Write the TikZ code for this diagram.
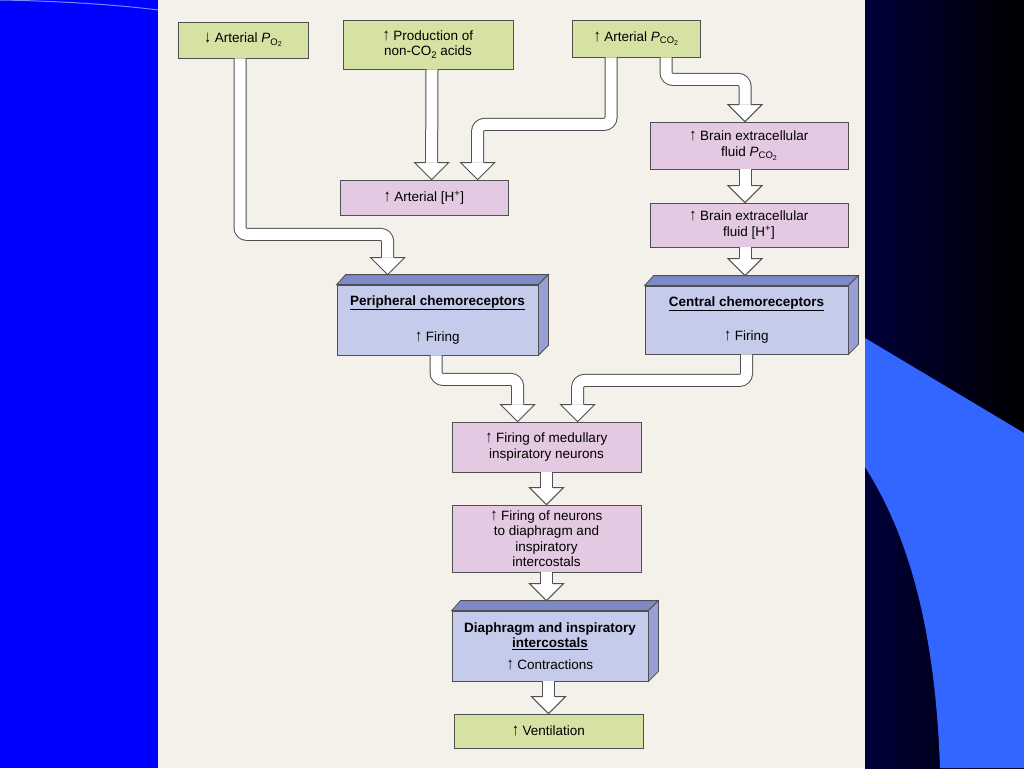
\documentclass[tikz,border=0pt]{standalone}
\usepackage{fontspec}
\setmainfont{Liberation Sans}
\usepackage{tikz}
\usetikzlibrary{calc}

\definecolor{pagec}{RGB}{243,241,234}
\definecolor{leftc}{RGB}{0,0,255}
\definecolor{navyc}{RGB}{0,0,58}
\definecolor{wingc}{RGB}{51,102,255}
\definecolor{arcc}{RGB}{110,140,255}
\definecolor{greenc}{RGB}{214,226,164}
\definecolor{pinkc}{RGB}{228,201,226}
\definecolor{frontc}{RGB}{197,203,234}
\definecolor{topc}{RGB}{126,138,200}
\definecolor{sidec}{RGB}{150,160,214}
\definecolor{boxline}{RGB}{80,80,80}

\newcommand{\sub}[1]{\raisebox{-0.35ex}{\fontsize{9.5}{10}\selectfont #1}}
\newcommand{\pres}[1]{\textit{P}\sub{#1\raisebox{-0.3ex}{\fontsize{7}{8}\selectfont 2}}}
\newcommand{\up}{\scalebox{1}[1.25]{\textbf{↑}}}

\newcommand{\slab}[1]{%
  \filldraw[topc,draw=boxline,line width=0.8pt] (#1.north west) -- ++(9,-10) -- ($(#1.north east)+(10,-10)$) -- (#1.north east) -- cycle;
  \filldraw[sidec,draw=boxline,line width=0.8pt] (#1.north east) -- ++(10,-10) -- ($(#1.south east)+(10,-10)$) -- (#1.south east) -- cycle;}

\newcommand{\headat}[1]{%
  \fill[white] ($(#1)+(-17,-17)$) -- (#1) -- ($(#1)+(17,-17)$) -- cycle;
  \draw[tipline] ($(#1)+(-6,-17)$) -- ($(#1)+(-17,-17)$) -- (#1) -- ($(#1)+(17,-17)$) -- ($(#1)+(6,-17)$);}

\begin{document}
\begin{tikzpicture}[x=1pt,y=-1pt,
  every node/.style={font=\fontsize{13.5}{15.5}\selectfont,align=center,inner sep=0pt},
  greenbox/.style={draw=boxline,line width=0.8pt,fill=greenc},
  pinkbox/.style={draw=boxline,line width=0.8pt,fill=pinkc},
  slabbox/.style={draw=boxline,line width=0.8pt,fill=frontc},
  shaft/.style={draw=boxline,line width=1pt,double=white,double distance=11pt,rounded corners=7pt},
  tipline/.style={draw=boxline,line width=1pt,line join=miter}]

\useasboundingbox (0,0) rectangle (1024,768);
\fill[leftc] (0,0) rectangle (158,768);
\draw[arcc,line width=1pt] (0,0) .. controls (60,1) and (120,5) .. (158,10);
\fill[pagec] (158,0) rectangle (865,768);
\shade[left color=navyc,right color=black] (865,0) rectangle (1024,768);
\fill[wingc] (865,338) -- (1024,433) -- (1024,768) -- (940,768)
  .. controls (935,620) and (905,530) .. (865,467) -- cycle;

\node[greenbox,minimum width=130pt,minimum height=36pt] (po2) at (243,40) {\scalebox{1}[1.25]{\textbf{↓}} Arterial \textit{P}\sub{O\raisebox{-0.3ex}{\fontsize{7}{8}\selectfont 2}}};
\node[greenbox,minimum width=170pt,minimum height=49pt] (acids) at (428,44.5) {\up{} Production of\\non-CO\sub{2} acids};
\node[greenbox,minimum width=128pt,minimum height=37pt] (pco2) at (636,38.5) {\up{} Arterial \pres{CO}};
\node[pinkbox,minimum width=198pt,minimum height=47pt] (brainco2) at (749,145.5) {\up{} Brain extracellular\\fluid \pres{CO}};
\node[pinkbox,minimum width=168pt,minimum height=35pt] (arth) at (424,197.5) {\up{} Arterial [H\textsuperscript{+}]};
\node[pinkbox,minimum width=198pt,minimum height=44pt] (brainh) at (749,225) {\up{} Brain extracellular\\fluid [H\textsuperscript{+}]};
\node[slabbox,minimum width=201pt,minimum height=70pt] (periph) at (437.5,320) {\underline{\textbf{Peripheral chemoreceptors}}\\[21pt]\up{} Firing};
\node[slabbox,minimum width=203pt,minimum height=68pt] (central) at (746.5,320) {\underline{\textbf{Central chemoreceptors}}\\[19pt]\up{} Firing};
\node[pinkbox,minimum width=189pt,minimum height=50pt] (medulla) at (546.5,447) {\up{} Firing of medullary\\inspiratory neurons};
\node[pinkbox,minimum width=189pt,minimum height=67pt] (motor) at (546.5,538.5) {\up{} Firing of neurons\\to diaphragm and\\inspiratory\\intercostals};
\node[slabbox,minimum width=196pt,minimum height=70pt] (muscles) at (550,646) {\textbf{Diaphragm and inspiratory}\\\underline{\textbf{intercostals}}\\[6pt]\up{} Contractions};
\node[greenbox,minimum width=189pt,minimum height=34pt] (vent) at (548.5,731) {\up{} Ventilation};

\slab{periph}
\slab{central}
\slab{muscles}

\coordinate (in1) at ($(periph.north west)+(51,-10)$);
\coordinate (in2) at ($(arth.north west)+(92,0)$);
\coordinate (in3) at ($(arth.north west)+(138,0)$);
\coordinate (in4) at ([xshift=-4pt]brainco2.north);
\coordinate (in5) at ([xshift=-4pt]brainh.north);
\coordinate (in6) at ([shift={(-1.5,-10)}]central.north);
\coordinate (in7) at ($(medulla.north west)+(66,0)$);
\coordinate (in8) at ($(medulla.north west)+(126,0)$);
\coordinate (in9) at (motor.north);
\coordinate (in10) at ([shift={(-3.5,-10)}]muscles.north);
\coordinate (in11) at (vent.north);

\draw[shaft] ([xshift=-3pt]po2.south) -- ++(0,176) -| ([yshift=17pt]in1);
\draw[shaft] (432,0 |- acids.south) -- ([yshift=17pt]in2);
\draw[shaft] ([xshift=-25pt]pco2.south) -- ++(0,67) -| ([yshift=17pt]in3);
\draw[shaft] ([xshift=30pt]pco2.south) -- ++(0,22) -| ([yshift=17pt]in4);
\draw[shaft] ([xshift=-4pt]brainco2.south) -- ([yshift=17pt]in5);
\draw[shaft] ([xshift=-4pt]brainh.south) -- ([yshift=17pt]in6);
\draw[shaft] ([xshift=-1.5pt]periph.south) -- ++(0,24) -| ([yshift=17pt]in7);
\draw[shaft] (central.south) -- ++(0,26) -| ([yshift=17pt]in8);
\draw[shaft] (medulla.south) -- ([yshift=17pt]in9);
\draw[shaft] (motor.south) -- ([yshift=17pt]in10);
\draw[shaft] ([xshift=-1.5pt]muscles.south) -- ([yshift=17pt]in11);

\headat{in1}
\headat{in2}
\headat{in3}
\headat{in4}
\headat{in5}
\headat{in6}
\headat{in7}
\headat{in8}
\headat{in9}
\headat{in10}
\headat{in11}

\end{tikzpicture}
\end{document}
